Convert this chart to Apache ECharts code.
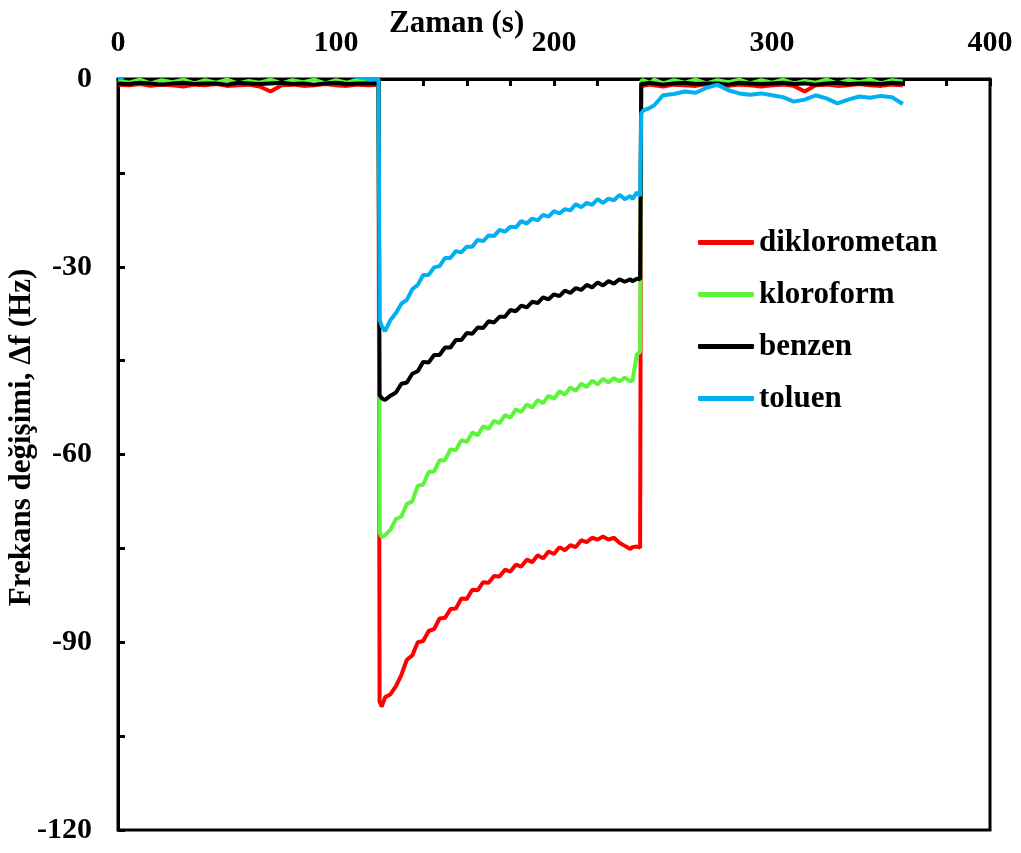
<!DOCTYPE html>
<html>
<head>
<meta charset="utf-8">
<script src="https://cdn.jsdelivr.net/npm/echarts@6/dist/echarts.min.js"></script>
<style>
    html, body { margin: 0; padding: 0; background: #fff; }
    #chart { width: 1021px; height: 853px; }
</style>
</head>
<body>
<div id="chart"></div>
<script>
// Time axis (s): baseline, exposure (120-240 s), recovery
const time = [
    0, 5, 10, 15, 20, 25, 30, 35, 40, 45, 50, 55, 60, 65, 70, 75, 80, 85, 90, 95, 100, 105, 110, 115, 119.5,
    120, 121, 122.5, 125, 127.5, 130, 132.5, 135, 137.5, 140, 142.5, 145, 147.5, 150, 152.5, 155, 157.5, 160,
    162.5, 165, 167.5, 170, 172.5, 175, 177.5, 180, 182.5, 185, 187.5, 190, 192.5, 195, 197.5, 200, 202.5,
    205, 207.5, 210, 212.5, 215, 217.5, 220, 222.5, 225, 227.5, 230, 232.5, 235, 236, 238, 239.5,
    240, 241, 244, 246, 250, 255, 260, 265, 270, 275, 280, 285, 290, 295, 300, 305, 310, 315, 320, 325,
    330, 335, 340, 345, 350, 355, 360
];

// Frequency change (Hz) per solvent
const diklorometan = [
    -0.9, -1.0, -0.8, -1.1, -0.9, -1.0, -1.2, -0.9, -1.0, -0.8, -1.1, -1.0, -0.9, -1.2, -2.0, -1.0, -0.9, -1.1, -1.0, -0.8, -1.0, -1.1, -0.9, -1.0, -0.9,
    -99.5, -100.3, -98.8, -98.3, -97.0, -95.2, -92.8, -92.1, -90.0, -89.8, -88.2, -87.9, -86.2, -86.1, -84.7, -84.6, -83.0, -83.1,
    -81.6, -81.7, -80.4, -80.5, -79.4, -79.5, -78.4, -78.7, -77.6, -77.9, -76.8, -77.2, -76.1, -76.6, -75.5, -75.9, -74.8,
    -75.3, -74.5, -74.8, -73.7, -74.0, -73.3, -73.6, -73.1, -73.6, -73.3, -74.1, -74.6, -75.1, -74.8, -74.7, -74.9,
    -1.0, -1.1, -0.9, -1.0, -1.2, -0.9, -1.0, -1.1, -0.8, -1.0, -1.1, -0.9, -1.0, -1.2, -1.0, -0.9, -1.1, -2.0, -1.0, -0.9,
    -1.1, -1.0, -0.8, -1.0, -1.1, -0.9, -1.0
];
const kloroform = [
    -0.2, -0.6, -0.1, -0.7, -0.2, -0.5, -0.1, -0.7, -0.2, -0.6, -0.1, -0.7, -0.3, -0.6, -0.1, -0.7, -0.2, -0.5, -0.1, -0.7, -0.2, -0.6, -0.1, -0.6, -0.3,
    -72.5, -73.2, -72.9, -72.0, -70.3, -69.9, -67.9, -67.5, -65.0, -64.8, -62.8, -62.7, -60.9, -60.9, -59.2, -59.3, -57.7, -58.0,
    -56.5, -56.9, -55.5, -55.9, -54.6, -55.0, -53.7, -54.1, -52.8, -53.2, -52.0, -52.5, -51.3, -51.8, -50.6, -51.1, -49.9,
    -50.4, -49.3, -49.8, -48.7, -49.2, -48.2, -48.8, -47.9, -48.5, -47.8, -48.3, -47.7, -48.3, -48.2, -44.0, -43.6,
    -0.3, -0.2, -0.6, -0.1, -0.7, -0.2, -0.6, -0.1, -0.7, -0.2, -0.5, -0.1, -0.7, -0.2, -0.6, -0.1, -0.7, -0.3, -0.6, -0.1,
    -0.7, -0.2, -0.5, -0.1, -0.7, -0.2, -0.4
];
const benzen = [
    -0.7, -0.8, -0.6, -0.7, -0.9, -0.7, -0.6, -0.8, -0.7, -0.7, -0.9, -0.6, -0.7, -0.8, -0.7, -0.6, -0.8, -0.7, -0.9, -0.7, -0.6, -0.8, -0.7, -0.7, -0.7,
    -50.5, -51.0, -51.3, -50.6, -50.1, -48.7, -48.5, -47.1, -46.7, -45.2, -45.3, -44.1, -44.1, -42.9, -42.9, -41.7, -41.7, -40.6,
    -40.7, -39.7, -39.8, -38.7, -38.9, -38.0, -38.0, -36.9, -37.1, -36.2, -36.5, -35.6, -35.8, -34.9, -35.2, -34.4, -34.7,
    -33.8, -34.2, -33.4, -33.7, -32.9, -33.3, -32.5, -33.0, -32.3, -32.7, -32.0, -32.4, -32.0, -32.3, -31.9, -32.0,
    -0.7, -0.8, -0.6, -0.7, -0.9, -0.7, -0.6, -0.8, -0.7, -0.7, -0.9, -0.6, -0.7, -0.8, -0.7, -0.6, -0.8, -0.7, -0.9, -0.7,
    -0.6, -0.8, -0.7, -0.7, -0.8, -0.6, -0.7
];
const toluen = [
    0.0, 0.8, 0.9, 0.8, 1.0, 0.9, 0.8, 0.9, 1.0, 0.8, 0.9, 0.8, 1.0, 0.9, 0.8, 0.9, 1.0, 0.8, 0.9, 0.8, 0.9, 0.6, 0.3, 0.0, 0.0,
    -38.5, -39.5, -40.3, -38.5, -37.4, -35.9, -35.3, -33.6, -32.9, -31.3, -31.3, -30.1, -29.9, -28.6, -28.6, -27.5, -27.7, -26.8,
    -26.8, -25.7, -25.9, -25.0, -25.1, -24.1, -24.4, -23.6, -23.7, -22.7, -23.1, -22.3, -22.6, -21.7, -22.0, -21.1, -21.5,
    -20.8, -21.0, -20.0, -20.5, -19.8, -20.1, -19.2, -19.8, -19.1, -19.4, -18.5, -19.2, -18.7, -19.2, -18.1, -18.7,
    -5.5, -5.0, -4.6, -4.2, -2.6, -2.4, -2.0, -2.2, -1.4, -0.9, -1.8, -2.3, -2.5, -2.3, -2.6, -2.9, -3.6, -3.3, -2.6, -3.1,
    -3.9, -3.3, -2.8, -3.0, -2.7, -2.9, -4.0
];

const seriesNames = ['diklorometan', 'kloroform', 'benzen', 'toluen'];
const seriesValues = [diklorometan, kloroform, benzen, toluen];
const seriesColors = ['#ff0000', '#5df53a', '#000000', '#00b0f0'];

const font = '"Liberation Serif", "Times New Roman", serif';

const chart = echarts.init(document.getElementById('chart'));

const option = {
    animation: false,
    title: {
        text: 'Zaman (s)',
        left: 384,
        top: 3,
        textStyle: { fontFamily: font, fontWeight: 'bold', fontSize: 31, color: '#000' }
    },
    legend: {
        orient: 'vertical',
        left: 698,
        top: 227,
        padding: 0,
        icon: 'roundRect',
        itemWidth: 56,
        itemHeight: 5,
        itemGap: 21,
        textStyle: { fontFamily: font, fontWeight: 'bold', fontSize: 31, color: '#000', lineHeight: 26 },
        data: seriesNames
    },
    grid: {
        left: 118,
        right: 31,
        top: 79,
        bottom: 23,
        outerBoundsMode: 'none',
        containLabel: false,
        show: true,
        borderColor: '#000',
        borderWidth: 3,
        backgroundColor: 'transparent'
    },
    xAxis: {
        type: 'value',
        position: 'top',
        min: 0,
        max: 400,
        interval: 20,
        splitLine: { show: false },
        axisLine: { show: true, lineStyle: { color: '#000', width: 3 } },
        axisTick: { inside: true, length: 7, lineStyle: { color: '#000', width: 3 } },
        axisLabel: {
            margin: 21,
            fontFamily: font,
            fontWeight: 'bold',
            fontSize: 30,
            color: '#000',
            formatter: v => (v % 100 === 0 ? String(v) : '')
        }
    },
    yAxis: {
        type: 'value',
        min: -120,
        max: 0,
        interval: 15,
        name: 'Frekans değişimi, Δf (Hz)',
        nameLocation: 'middle',
        nameGap: 81,
        nameMoveOverlap: false,
        nameTextStyle: { fontFamily: font, fontWeight: 'bold', fontSize: 31, color: '#000', padding: [0, 0, 0, 34] },
        splitLine: { show: false },
        axisLine: { show: true, lineStyle: { color: '#000', width: 3 } },
        axisTick: { inside: true, length: 7, lineStyle: { color: '#000', width: 3 } },
        axisLabel: {
            margin: 26,
            fontFamily: font,
            fontWeight: 'bold',
            fontSize: 30,
            color: '#000',
            formatter: v => (v % 30 === 0 ? String(v) : '')
        }
    },
    series: seriesNames.map((name, i) => ({
        name: name,
        type: 'line',
        showSymbol: false,
        clip: true,
        data: time.map((t, k) => [t, seriesValues[i][k]]),
        itemStyle: { color: seriesColors[i] },
        lineStyle: { color: seriesColors[i], width: 4 }
    }))
};

chart.setOption(option);
</script>
</body>
</html>
